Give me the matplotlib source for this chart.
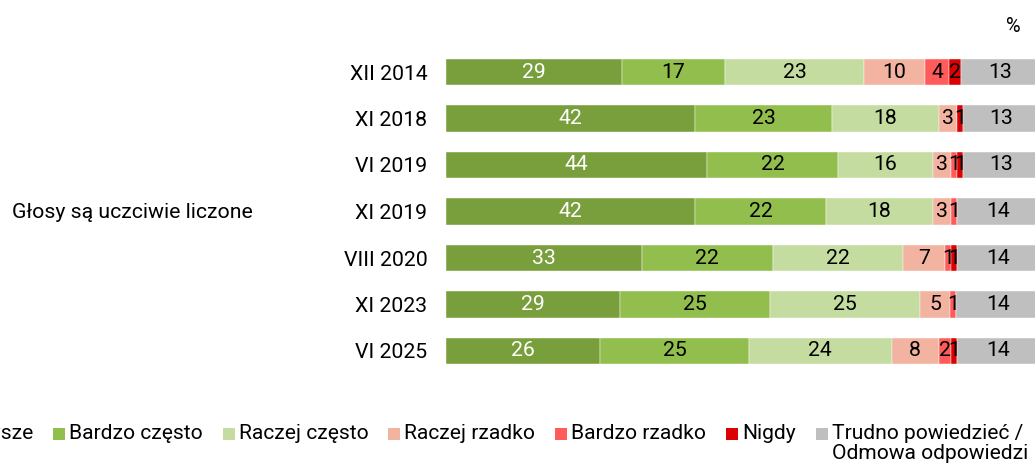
import numpy as np
import matplotlib.pyplot as plt
from matplotlib.patches import Rectangle

plt.rcParams['font.family'] = ['Roboto', 'DejaVu Sans']

periods = ['XII 2014', 'XI 2018', 'VI 2019', 'XI 2019', 'VIII 2020', 'XI 2023', 'VI 2025']
categories = ['Zawsze', 'Bardzo często', 'Raczej często', 'Raczej rzadko',
              'Bardzo rzadko', 'Nigdy', 'Trudno powiedzieć /\nOdmowa odpowiedzi']
colors = ['#789f3b', '#92be4e', '#c4dca0', '#f2b3a0', '#ff5b5b', '#dc0000', '#bfbfbf']
text_colors = ['white', 'black', 'black', 'black', 'black', 'black', 'black']

zawsze = [29, 42, 44, 42, 33, 29, 26]
bardzo_czesto = [17, 23, 22, 22, 22, 25, 25]
raczej_czesto = [23, 18, 16, 18, 22, 25, 24]
raczej_rzadko = [10, 3, 3, 3, 7, 5, 8]
bardzo_rzadko = [4, 0, 1, 1, 1, 1, 2]
nigdy = [2, 1, 1, 0, 1, 0, 1]
trudno = [13, 13, 13, 14, 14, 14, 14]
group_label = 'Głosy są uczciwie liczone'

data = np.array([zawsze, bardzo_czesto, raczej_czesto, raczej_rzadko,
                 bardzo_rzadko, nigdy, trudno], dtype=float)
totals = data.sum(axis=0)
shares = data / totals * 100

FS = 15.3
LFS = 15.1
W, H = 1035, 468
fig = plt.figure(figsize=(W / 100, H / 100), dpi=100)
ax = fig.add_axes([446 / W, 1 - 374.25 / H, 594 / W, 325.5 / H])

y = np.arange(len(periods))
left = np.zeros(len(periods))
for i in range(len(categories)):
    ax.barh(y, shares[i], left=left, height=0.56, color=colors[i],
            edgecolor='white', linewidth=0.3)
    for j in range(len(periods)):
        if data[i, j] > 0:
            ax.text(left[j] + shares[i, j] / 2, y[j], f'{data[i, j]:.0f}',
                    ha='center', va='center', fontsize=FS, color=text_colors[i])
    left += shares[i]

ax.set_xlim(0, 100)
ax.set_ylim(len(periods) - 0.5, -0.5)
ax.set_yticks(y)
ax.set_yticklabels(periods, fontsize=FS)
ax.tick_params(axis='y', length=0, pad=13.5)
ax.set_xticks([])
for s in ax.spines.values():
    s.set_visible(False)

fig.text(12 / W, 1 - 212 / H, group_label, ha='left', va='center', fontsize=FS)
fig.text(1013 / W, 1 - 27 / H, '%', ha='center', va='center', fontsize=FS - 1)

# legend drawn by hand so the marker sits on the first line of a wrapped label
fig.canvas.draw()
renderer = fig.canvas.get_renderer()
box, gap_in, gap_out = 12, 4, 20
probe = fig.text(0, 0, categories[0], fontsize=LFS)
first_w = probe.get_window_extent(renderer).width
probe.remove()
x = 53 - gap_out - first_w - gap_in - box
for c, lab in zip(colors, categories):
    fig.patches.append(Rectangle((x / W, 1 - 440 / H), box / W, box / H,
                                 transform=fig.transFigure, facecolor=c,
                                 edgecolor='none'))
    t = fig.text((x + box + gap_in) / W, 1 - 424 / H, lab, ha='left', va='top',
                 fontsize=LFS, linespacing=1.05)
    bb = t.get_window_extent(renderer)
    x = bb.x1 + gap_out

fig.savefig('out.png', dpi=100)
